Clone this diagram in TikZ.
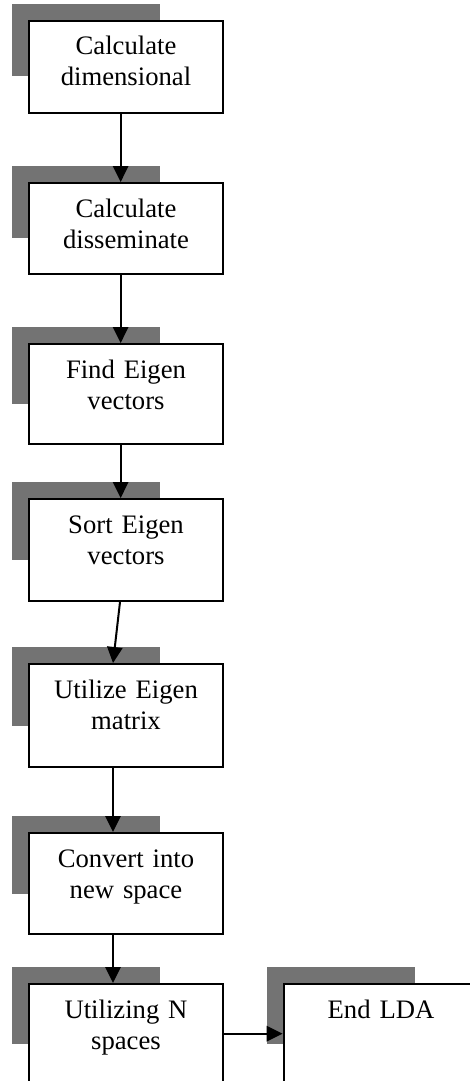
\documentclass[tikz,border=0pt]{standalone}
\usepackage{fontspec}
\setmainfont{Liberation Serif}
\usetikzlibrary{arrows.meta,calc,backgrounds}

\tikzset{
	stage/.style={draw, line width=1.5pt, fill=white, anchor=north, text width=146pt, align=center,
		inner xsep=0pt, inner ysep=0pt, text height=25.5pt, font=\fontsize{20}{23.25}\selectfont},
	shade/.style={fill=black!55},
	flow/.style={line width=1.5pt, -{Triangle[length=12pt,width=11.5pt]}}
}

\begin{document}
\begin{tikzpicture}[x=0.75pt,y=-0.75pt]
		\useasboundingbox (0,0) rectangle (469,1081);
		\node[stage, text depth=43.5pt] (calcdim) at (126,20) {Calculate\\dimensional};
		\node[stage, text depth=42.75pt] (calcdis) at (126,182) {Calculate\\disseminate};
		\node[stage, text depth=49.5pt] (findeig) at (126,343) {Find Eigen\\vectors};
		\node[stage, text depth=51pt] (sorteig) at (126,498) {Sort Eigen\\vectors};
		\node[stage, text depth=51.75pt] (usemat) at (126,663) {Utilize Eigen\\matrix};
		\node[stage, text depth=50.25pt] (convert) at (126,832) {Convert into\\new space};
		\node[stage, text depth=49.5pt] (usen) at (126,983) {Utilizing N\\spaces};
		\node[stage, text depth=49.5pt] (endlda) at (381,983) {End LDA};
		\begin{scope}[on background layer]
			\foreach \n in {calcdim, calcdis, findeig, sorteig, usemat, convert, usen, endlda}{
				\fill[shade] ($(\n.north west)+(-16,-16)$) rectangle ($(\n.north west)!0.6!(\n.south west)+(132,0)$);
			}
		\end{scope}
		\draw[flow] ([xshift=-4pt]calcdim.south) -- ([xshift=-4pt]calcdis.north);
		\draw[flow] ([xshift=-4pt]calcdis.south) -- ([xshift=-4pt]findeig.north);
		\draw[flow] ([xshift=-4pt]findeig.south) -- ([xshift=-4pt]sorteig.north);
		\draw[flow] ([xshift=-4.5pt]sorteig.south) -- ([xshift=-9.75pt]usemat.north);
		\draw[flow] ([xshift=-9.75pt]usemat.south) -- ([xshift=-9.75pt]convert.north);
		\draw[flow] ([xshift=-9.75pt]convert.south) -- ([xshift=-9.75pt]usen.north);
		\draw[flow] ([yshift=-38pt]usen.north east) -- ([yshift=-38pt]endlda.north west);
\end{tikzpicture}
\end{document}
